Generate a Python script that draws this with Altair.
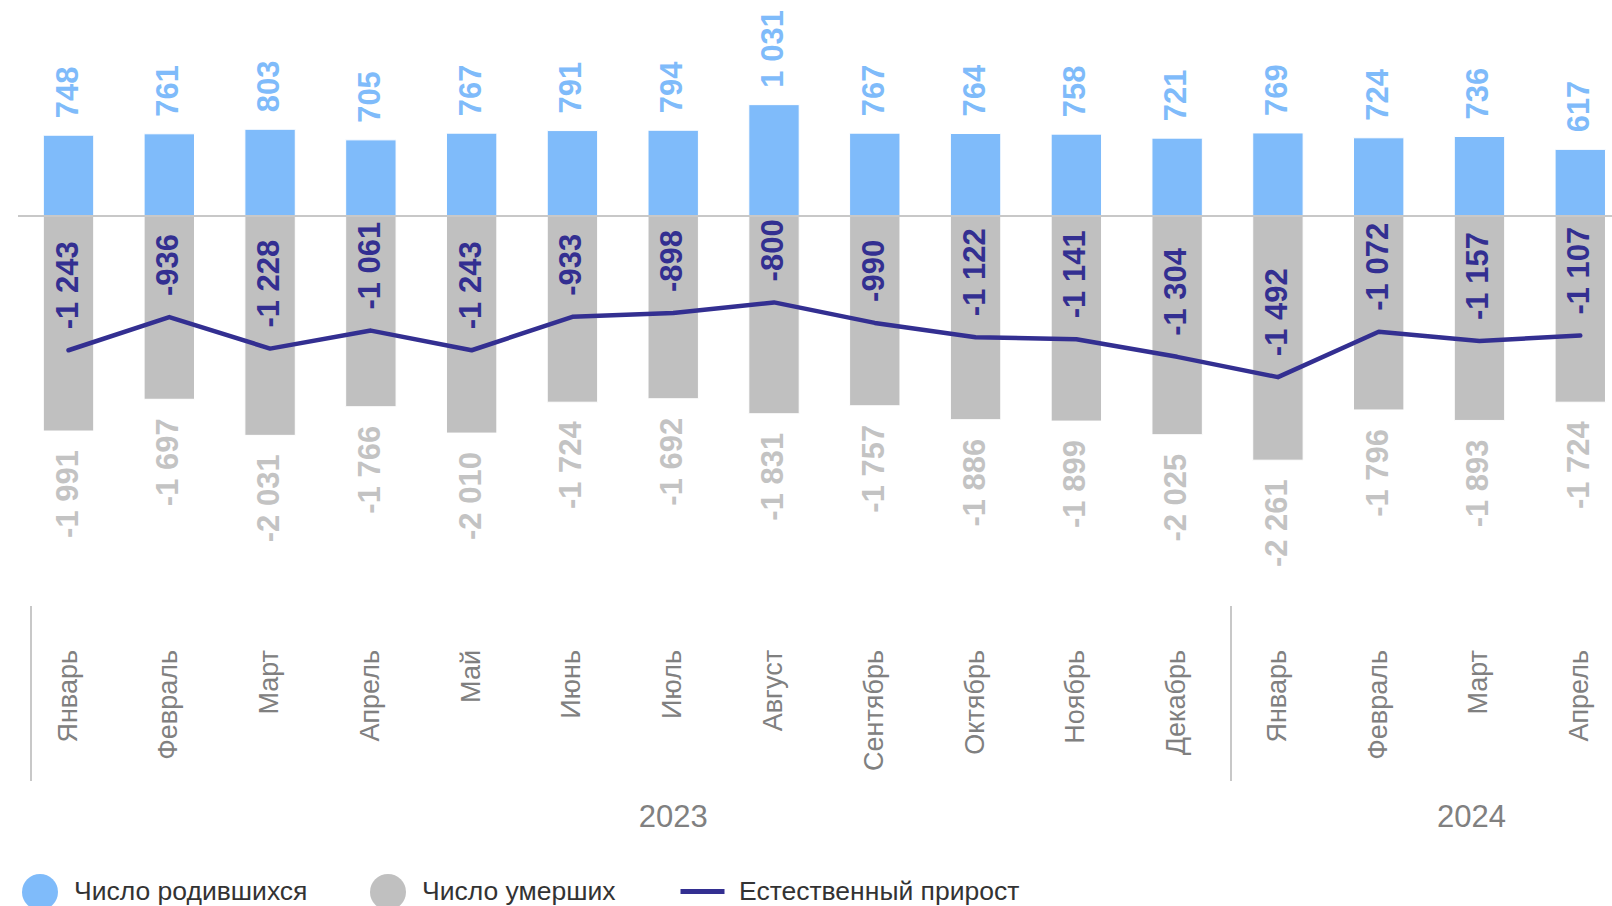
import altair as alt
import pandas as pd

# ---- data ----
months = ["Январь", "Февраль", "Март", "Апрель", "Май", "Июнь", "Июль", "Август",
          "Сентябрь", "Октябрь", "Ноябрь", "Декабрь", "Январь", "Февраль", "Март", "Апрель"]
years = [2023] * 12 + [2024] * 4
births = [748, 761, 803, 705, 767, 791, 794, 1031, 767, 764, 758, 721, 769, 724, 736, 617]
deaths = [-1991, -1697, -2031, -1766, -2010, -1724, -1692, -1831, -1757, -1886, -1899,
          -2025, -2261, -1796, -1893, -1724]
increase = [-1243, -936, -1228, -1061, -1243, -933, -898, -800, -990, -1122, -1141,
            -1304, -1492, -1072, -1157, -1107]

S_BIRTH = "Число родившихся"
S_DEATH = "Число умерших"
S_INC = "Естественный прирост"

BLUE = "#7fbbfa"
GREY = "#c0c0c0"
NAVY = "#332f91"
FONT = "Liberation Sans"


def fmt(v):
    s = f"{abs(v):,}".replace(",", " ")
    return ("-" if v < 0 else "") + s


keys = []
cnt = {}
for y in years:
    cnt[y] = cnt.get(y, 0) + 1
    keys.append(f"{y}-{cnt[y]:02d}")

df = pd.DataFrame({
    "key": keys, "month": months, "year": years,
    "births": births, "deaths": deaths, "increase": increase,
})
df["b_lbl"] = [fmt(v) for v in births]
df["d_lbl"] = [fmt(v) for v in deaths]
df["i_lbl"] = [fmt(v) for v in increase]
df["lname"] = S_INC

long = pd.concat([
    pd.DataFrame({"key": keys, "series": S_BIRTH, "value": births}),
    pd.DataFrame({"key": keys, "series": S_DEATH, "value": deaths}),
])

W = 1594
H = 906
xscale = alt.Scale(domain=keys, paddingInner=0.5, paddingOuter=0.158, align=0.795)
yscale = alt.Scale(domain=[-6388.9, 2000], nice=False, zero=False)
X = alt.X("key:N", sort=keys, scale=xscale, axis=None)

legend1 = alt.Legend(orient="none", legendX=4, legendY=874, direction="horizontal",
                     title=None, symbolType="circle", symbolSize=1296, symbolStrokeWidth=0,
                     labelFontSize=26.5, labelFont=FONT, labelColor="#333333",
                     labelOffset=16, columnPadding=62, padding=0, labelLimit=500)
legend2 = alt.Legend(orient="none", legendX=660, legendY=867, direction="horizontal",
                     title=None, symbolType="stroke", symbolSize=1936, symbolStrokeWidth=5,
                     labelFontSize=26.5, labelFont=FONT, labelColor="#333333",
                     labelOffset=12, padding=0, labelLimit=500)

bars = alt.Chart(long).mark_bar(stroke="white", strokeWidth=1).encode(
    x=X,
    y=alt.Y("value:Q", scale=yscale, axis=None, stack=None),
    color=alt.Color("series:N",
                    scale=alt.Scale(domain=[S_BIRTH, S_DEATH], range=[BLUE, GREY]),
                    legend=legend1),
)

zero = alt.Chart(pd.DataFrame({"z": [0]})).mark_rule(color="#c8c8c8", strokeWidth=2).encode(
    y=alt.Y("z:Q", scale=yscale, axis=None),
    x=alt.value(0), x2=alt.value(W),
)

base = alt.Chart(df).encode(x=X)

line = base.mark_line(strokeWidth=4.5, strokeCap="round", strokeJoin="round").encode(
    y=alt.Y("increase:Q", scale=yscale, axis=None),
    color=alt.Color("lname:N", scale=alt.Scale(domain=[S_INC], range=[NAVY]), legend=legend2),
)

txt = dict(angle=270, baseline="middle", font=FONT, fontWeight="bold", fontSize=31)
b_text = base.mark_text(align="left", dx=17, color=BLUE, **txt).encode(
    y=alt.Y("births:Q", scale=yscale, axis=None), text="b_lbl:N")
d_text = base.mark_text(align="right", dx=-19, color="#c3c3c3", **txt).encode(
    y=alt.Y("deaths:Q", scale=yscale, axis=None), text="d_lbl:N")
i_text = base.mark_text(align="left", dx=21, color=NAVY, **txt).encode(
    y=alt.Y("increase:Q", scale=yscale, axis=None), text="i_lbl:N")

m_text = base.mark_text(angle=270, align="right", baseline="middle", font=FONT,
                        fontSize=27, color="#808080").encode(
    y=alt.value(650), text="month:N")

yr = pd.DataFrame({"key": ["2023-07", "2024-03"], "label": ["2023", "2024"]})
y2023 = alt.Chart(yr[yr.label == "2023"]).mark_text(
    align="center", baseline="middle", font=FONT, fontSize=31, color="#808080").encode(
    x=X, y=alt.value(818), text="label:N")
y2024 = alt.Chart(yr[yr.label == "2024"]).mark_text(
    align="center", baseline="middle", font=FONT, fontSize=31, color="#808080", dx=-8).encode(
    x=X, y=alt.value(818), text="label:N")

sep = pd.DataFrame({"key": ["2023-01", "2024-01"]})
sep1 = alt.Chart(sep[sep.key == "2023-01"]).mark_rule(
    color="#c8c8c8", strokeWidth=2, xOffset=-37.5).encode(
    x=X, y=alt.value(606), y2=alt.value(781))
sep2 = alt.Chart(sep[sep.key == "2024-01"]).mark_rule(
    color="#c8c8c8", strokeWidth=2, xOffset=-46.9).encode(
    x=X, y=alt.value(606), y2=alt.value(781))

chart = alt.layer(
    bars, zero, line, b_text, d_text, i_text, m_text, y2023, y2024, sep1, sep2
).resolve_scale(color="independent").properties(
    width=W, height=H,
    autosize=alt.AutoSizeParams(type="none"),
    padding={"left": 18, "top": 0, "right": 0, "bottom": 0},
).configure_view(stroke=None)

chart.save("out.html", embed_options={"renderer": "svg", "actions": False})
